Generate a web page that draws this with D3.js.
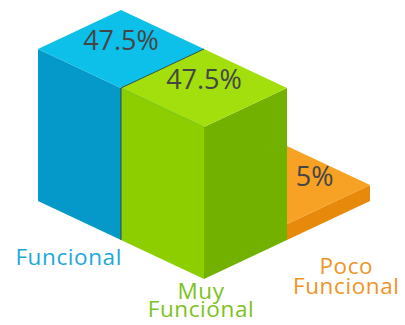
<!DOCTYPE html>
<html>
<head>
<meta charset="utf-8">
<script src="https://cdn.jsdelivr.net/npm/d3@7"></script>
<style>
  html, body { margin: 0; padding: 0; background: #ffffff; }
  svg { display: block; }
</style>
</head>
<body>
<svg id="chart" width="405" height="325"></svg>
<script>
// Category names (split into display lines) and their shares
const categories = ["Funcional", "Muy Funcional", "Poco Funcional"];
const categoryLines = [["Funcional"], ["Muy", "Funcional"], ["Poco", "Funcional"]];
const values = [47.5, 47.5, 5];
const valueLabels = ["47.5%", "47.5%", "5%"];

// Face colours per bar: top, left, right, label
const palette = [
  { top: "#0cc0ea", left: "#0499c9", right: "#0383ad", text: "#1aa8da" },
  { top: "#a2df0c", left: "#8cce00", right: "#73b100", text: "#7cc21c" },
  { top: "#f7a224", left: "#f19514", right: "#e7890a", text: "#f0941f" }
];

const svg = d3.select("#chart");

// Isometric footprint: one grid step along u goes down-right, along v down-left
const stepX = d3.scaleLinear().domain([0, 1]).range([0, 83]);
const stepY = d3.scaleLinear().domain([0, 1]).range([0, 39]);
const height = d3.scaleLinear().domain([0, 47.5]).range([0, 152]);
const origin = [204, 201];

// Grid slot of each bar: first sits behind-left, second in front, third behind-right
const slots = [[-1, 0], [0, 0], [0, -1]];

function project(u, v, z) {
  return [origin[0] + stepX(u) - stepX(v), origin[1] + stepY(u) + stepY(v) - height(z)];
}

const boxes = categories.map((c, i) => {
  const [u, v] = slots[i];
  const h = values[i];
  return {
    i, u, v, h,
    tTop: project(u, v, h), tLeft: project(u, v + 1, h), tRight: project(u + 1, v, h), tFront: project(u + 1, v + 1, h),
    bLeft: project(u, v + 1, 0), bRight: project(u + 1, v, 0), bFront: project(u + 1, v + 1, 0)
  };
});

function taller(u, v, h) {
  return boxes.some(b => b.u === u && b.v === v && b.h > h);
}

// Paint back to front
const order = boxes.slice().sort((a, b) => (a.u + a.v) - (b.u + b.v));
const line = d3.line();

const g = svg.append("g");
order.forEach(b => {
  const col = palette[b.i];
  g.append("path").attr("d", line([b.tLeft, b.tFront, b.bFront, b.bLeft]) + "Z").attr("fill", col.left);
  g.append("path").attr("d", line([b.tFront, b.tRight, b.bRight, b.bFront]) + "Z").attr("fill", col.right);
  g.append("path").attr("d", line([b.tTop, b.tRight, b.tFront, b.tLeft]) + "Z").attr("fill", col.top);
  // thin dark seam where the front bar meets the one behind it
  if (taller(b.u - 1, b.v, 0)) {
    g.append("path").attr("d", line([b.tTop, b.tLeft, b.bLeft]))
      .attr("fill", "none").attr("stroke", "#23343a").attr("stroke-width", 1).attr("opacity", 0.8);
  }
});

// Value labels at the centre of the visible part of each top face
boxes.forEach(b => {
  let poly = [b.tTop, b.tRight, b.tFront, b.tLeft];
  if (taller(b.u, b.v + 1, b.h)) poly = [b.tTop, b.tRight, b.tFront];
  else if (taller(b.u + 1, b.v, b.h)) poly = [b.tTop, b.tLeft, b.tFront];
  const c = d3.polygonCentroid(poly);
  svg.append("text")
    .attr("x", c[0]).attr("y", c[1] + 1)
    .attr("text-anchor", "middle")
    .attr("font-family", "'Open Sans', sans-serif")
    .attr("font-size", 27)
    .attr("font-weight", 500)
    .attr("fill", "#454545")
    .text(valueLabels[b.i]);
});

// Category labels below the exposed side of each bar
boxes.forEach(b => {
  const col = palette[b.i];
  const hidL = taller(b.u, b.v + 1, 0), hidR = taller(b.u + 1, b.v, 0);
  const side = hidR ? "left" : (hidL ? "right" : "center");
  const lines = categoryLines[b.i];
  const texts = lines.map(s => svg.append("text")
    .attr("font-family", "'Open Sans', sans-serif")
    .attr("font-size", 22.5)
    .attr("letter-spacing", 0.6)
    .attr("fill", col.text)
    .attr("text-anchor", "middle")
    .text(s));
  const w = d3.max(texts, t => t.node().getComputedTextLength());
  let cx, y0, lh;
  if (side === "left") { cx = b.bFront[0] + 1 - w / 2; y0 = b.bFront[1] + 25; lh = 19; }
  else if (side === "right") { cx = b.bFront[0] + 6 + w / 2; y0 = b.bFront[1] + 34; lh = 20; }
  else { cx = b.bFront[0] - 3; y0 = b.bFront[1] + 20; lh = 18; }
  texts.forEach((t, k) => t.attr("x", cx).attr("y", y0 + k * lh));
});
</script>
</body>
</html>
